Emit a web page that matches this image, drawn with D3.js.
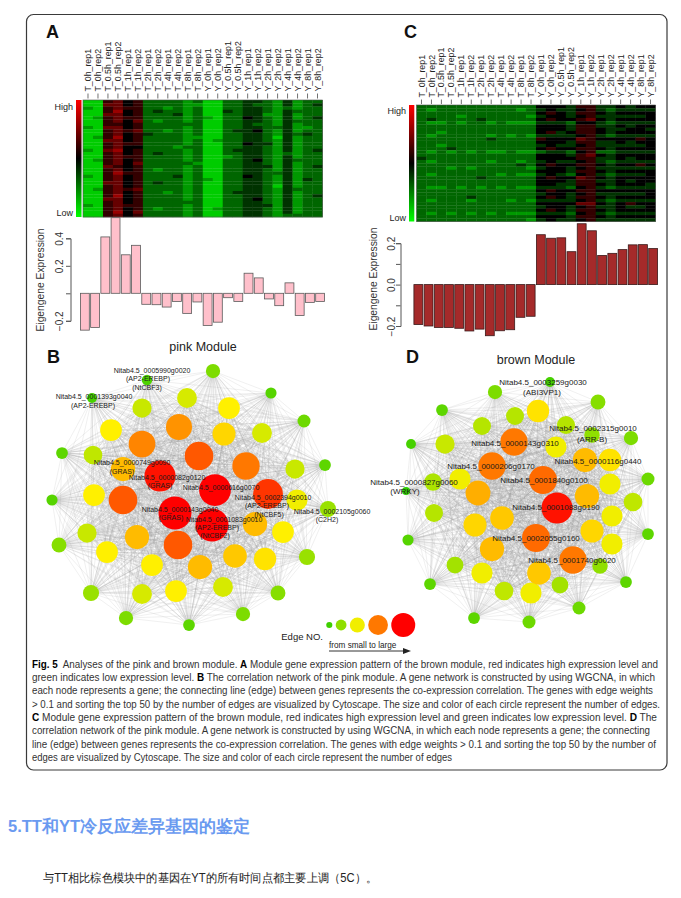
<!DOCTYPE html>
<html><head><meta charset="utf-8">
<script src="https://cdn.jsdelivr.net/npm/d3@7/dist/d3.min.js"></script>
<style>
html,body{margin:0;padding:0;background:#fff;}
svg{display:block;}
text{font-family:"Liberation Sans",Arial,Helvetica,sans-serif;}
</style></head><body>
<svg id="fig" width="681" height="898"></svg>
<script>
// ---------------- DATA ----------------
const samples = ["T_0h_rep1","T_0h_rep2","T_0.5h_rep1","T_0.5h_rep2","T_1h_rep1","T_1h_rep2",
  "T_2h_rep1","T_2h_rep2","T_4h_rep1","T_4h_rep2","T_8h_rep1","T_8h_rep2",
  "Y_0h_rep1","Y_0h_rep2","Y_0.5h_rep1","Y_0.5h_rep2","Y_1h_rep1","Y_1h_rep2",
  "Y_2h_rep1","Y_2h_rep2","Y_4h_rep1","Y_4h_rep2","Y_8h_rep1","Y_8h_rep2"];

// eigengene expression per sample
const pinkEigengene = [-0.268,-0.249,0.41,0.55,0.28,0.349,-0.080,-0.083,-0.10,-0.059,-0.146,-0.063,
  -0.234,-0.21,-0.032,-0.059,0.146,0.112,-0.041,-0.09,0.076,-0.161,-0.066,-0.059];
const brownEigengene = [-0.193,-0.200,-0.207,-0.207,-0.211,-0.224,-0.215,-0.247,-0.223,-0.218,-0.158,-0.153,
  0.241,0.224,0.226,0.159,0.294,0.260,0.141,0.151,0.169,0.192,0.193,0.174];

// heatmap rows: one char per sample, expression level 0 (low, green) .. 5 (black) .. 9 (high, red)
const pinkHeatRows = [
"116756333323113344324233","117756333322113343324234","216766332323113344323233","116856343323114344324333",
"117756333423113344224233","126766333323213354324234","116757323323113344324333","116656333333113343324233",
"217756333323113344334223","116767332323113445324233","116756433323113344324343","126856333322113344314233",
"117756333323123344324233","116766333323113354424233","116755333233113344324233","217856333323113444324234",
"116756343323113344323233","116766333323112344324233","126756333323113345324333","116757333332113344324233",
"117656333323113344424234","116756323323113344324233","116866333323113344334233","216756333423113354324233",
"116756333323213344324243","117756343323113344324233","116756333323113344314233","126767333323113344324333",
"116756332323113444324233","116856333323113344324234","117756333323113345324233","116756333333113344324233",
"216766333323113344424233","116756323323123344324233","116857333323113344324233","116756333323113344323333"];
const brownHeatRows = [
"333333333333555466445455","323333333323454456434444","333333333333565466545555","333323333332455456444445",
"343333433333565567545555","322323323222444355434444","333333333333555466445455","333333333333555466544554",
"332333333333564566545555","323333323232444456434444","333333343333655576555565","333333333333555466445455",
"332333333333454456444445","333433333333565566545555","323232322322344356334444","333333333333555467545555",
"433333333333555566445455","323333323323454456434444","333333333343565566545565","333232333332455456444444",
"333333333333555466545555","323333332322454356434445","333333433333565576545555","333333333333555466445455",
"333333333333554466545554","322323232322444356434444","333333333333565566555555","333333333333455456444445",
"333334333333565466545555","323332333232444456434444","333333333333555577545655","333333333333455456445445",
"333333333333565466545555","323232323222444356434444","333333333333555466545555","333333333332454456444444"];

// network nodes: [layout x, layout y, number of edges]
const pinkNodes = [
[173,11,20],[231,33,15],[264,61,18],[285,105,16],[288,149,23],[267,197,23],[238,233,21],[203,254,20],
[149,265,16],[86,258,20],[51,233,23],[19,185,21],[12,140,15],[22,93,16],[52,38,13],[107,20,14],
[102,48,28],[147,38,29],[189,48,32],[222,73,29],[255,109,28],[257,140,31],[243,172,32],[225,199,33],
[195,196,35],[183,227,29],[136,231,32],[102,234,29],[67,192,32],[47,173,28],[54,135,32],[53,95,27],
[71,70,32],[184,74,34],[112,205,32],[160,207,36],[97,177,36],[83,109,36],[215,164,36],
[139,67,39],[102,84,40],[159,96,43],[206,106,41],[83,140,43],[138,185,43],[228,134,45],
[120,116,47],[175,130,48],[135,153,50],[172,165,50]];
const pinkLabels = [
["Nitab4.5_0005990g0020",112,12.5],["(AP2-EREBP)",108,21],["(NtCBF3)",107,30],
["Nitab4.5_0001393g0040",54,39],["(AP2-EREBP)",53,47.5],
["Nitab4.5_0000749g0090",92,105],["(GRAS)",82,113.5],
["Nitab4.5_0000082g0120",127,120],["(GRAS)",120,128],
["Nitab4.5_0000616g0070",181,130],
["Nitab4.5_0002394g0010",233,140],["(AP2-EREBP)",227,148],["(NtCBF5)",229,156.5],
["Nitab4.5_0002105g0060",292,153.5],["(C2H2)",287,162],
["Nitab4.5_0000143g0040",140,151.5],["(GRAS)",131,160],
["Nitab4.5_0001083g0010",184,161.5],["(AP2-EREBP)",177,170],["(NtCBF2)",175,178]];

const brownNodes = [
[115,32,20],[218,42,21],[62,50,16],[31,84,13],[251,78,20],[268,119,18],[26,131,10],[268,174,16],
[28,180,15],[246,222,16],[50,224,16],[199,248,18],[94,258,16],[149,262,18],[170,22,13],
[135,56,26],[158,51,33],[102,66,26],[186,65,26],[212,75,22],[65,84,28],[176,87,31],[230,100,33],
[53,122,25],[80,119,31],[230,124,31],[253,142,27],[54,153,26],[232,156,31],[95,165,34],[212,171,34],
[232,184,31],[75,205,24],[102,213,31],[220,206,22],[124,231,27],[151,233,31],[180,225,24],
[205,100,36],[98,133,37],[122,158,35],[207,136,36],[112,189,36],[159,213,35],
[134,82,41],[112,106,41],[163,120,42],[156,178,42],[193,200,41],[177,148,47]];
const brownLabels = [
["Nitab4.5_0003259g0030",163,24.7],["(ABI3VP1)",162,34.7],
["Nitab4.5_0002315g0010",213,71.3],["(ARR-B)",212,82],
["Nitab4.5_0000143g0310",135,85.7],["Nitab4.5_0000116g0440",218,104],
["Nitab4.5_0000206g0170",111,108.7],["Nitab4.5_0000827g0060",34,124.7],["(WRKY)",25,134],
["Nitab4.5_0001840g0100",164,123],["Nitab4.5_0001088g0190",176,150.3],
["Nitab4.5_0002055g0160",156,181.3],["Nitab4.5_0001740g0020",192,203]];

const legendLevels = [12,22,31,41,50];

const captionLines = [
"**Fig. 5**  Analyses of the pink and brown module. **A** Module gene expression pattern of the brown module, red indicates high expression level and",
"green indicates low expression level. **B** The correlation network of the pink module. A gene network is constructed by using WGCNA, in which",
"each node represents a gene; the connecting line (edge) between genes represents the co-expression correlation. The genes with edge weights",
"> 0.1 and sorting the top 50 by the number of edges are visualized by Cytoscape. The size and color of each circle represent the number of edges.",
"**C** Module gene expression pattern of the brown module, red indicates high expression level and green indicates low expression level. **D** The",
"correlation network of the pink module. A gene network is constructed by using WGCNA, in which each node represents a gene; the connecting",
"line (edge) between genes represents the co-expression correlation. The genes with edge weights > 0.1 and sorting the top 50 by the number of",
"edges are visualized by Cytoscape. The size and color of each circle represent the number of edges"];
const captionEnds = [658,655,653,660,657,650,656,452];

const sectionTitle = "5.TT和YT冷反应差异基因的鉴定";
const bodyText = "与TT相比棕色模块中的基因在YT的所有时间点都主要上调（5C）。";

// ---------------- DRAW ----------------
const svg = d3.select("#fig");
svg.append("rect").attr("x",26.5).attr("y",14.5).attr("width",640.5).attr("height",755.5)
  .attr("rx",7).attr("fill","#fff").attr("stroke","#3a3a3a").attr("stroke-width",1.2);

// panel letters
[["A",46,38],["C",404,38],["B",47,363],["D",406,363]].forEach(([t,x,y])=>{
  svg.append("text").attr("x",x).attr("y",y).text(t)
    .attr("font-size",18).attr("font-weight","bold").attr("fill","#111");
});

const heatColor = d3.scaleLinear().domain([0,5,10]).range(["#00ff00","#000000","#ff0000"]);

// gradient for color key
const defs = svg.append("defs");
const grad = defs.append("linearGradient").attr("id","key").attr("x1",0).attr("x2",0).attr("y1",0).attr("y2",1);
[[0,"#ff0000"],[0.5,"#000000"],[1,"#00ff00"]].forEach(([o,c])=>grad.append("stop").attr("offset",o).attr("stop-color",c));

function heatmap(rows, c){
  const g = svg.append("g");
  const x = d3.scaleBand().domain(samples).range([c.x0,c.x1]);
  const y = d3.scaleBand().domain(d3.range(rows.length)).range([c.y0,c.y1]);
  rows.forEach((r,i)=>{
    g.append("g").selectAll("rect").data(r.split("").map(Number)).join("rect")
      .attr("x",(d,j)=>x(samples[j])).attr("y",y(i))
      .attr("width",x.bandwidth()+0.3).attr("height",y.bandwidth()+0.3)
      .attr("fill",d=>heatColor(d));
  });
  g.append("rect").attr("x",c.x0).attr("y",c.y0).attr("width",c.x1-c.x0).attr("height",c.y1-c.y0)
    .attr("fill","none").attr("stroke","#555").attr("stroke-width",0.6);
  // ticks + labels
  g.selectAll("line.t").data(samples).join("line")
    .attr("x1",d=>x(d)+x.bandwidth()/2).attr("x2",d=>x(d)+x.bandwidth()/2)
    .attr("y1",c.tk0).attr("y2",c.tk1).attr("stroke","#333").attr("stroke-width",0.7);
  g.selectAll("text.l").data(samples).join("text")
    .attr("transform",d=>`translate(${x(d)+x.bandwidth()/2+3.1},${c.lab}) rotate(-90)`)
    .attr("text-anchor","start").attr("font-size",8.8).attr("fill","#222").text(d=>d);
  // key
  g.append("rect").attr("x",c.k0).attr("y",c.y0).attr("width",c.k1-c.k0).attr("height",c.y1-c.y0).attr("fill","url(#key)");
  g.append("text").attr("x",c.k0-3).attr("y",c.hiY).attr("text-anchor","end").attr("font-size",9).attr("fill","#222").text("High");
  g.append("text").attr("x",c.k0-3).attr("y",c.loY).attr("text-anchor","end").attr("font-size",9).attr("fill","#222").text("Low");
}
heatmap(pinkHeatRows,{x0:83,x1:322.5,y0:100,y1:217,tk0:93.5,tk1:98.5,lab:91.5,k0:76,k1:81.5,hiY:110,loY:215.5});
heatmap(brownHeatRows,{x0:416.5,x1:655.5,y0:105,y1:221.5,tk0:99.5,tk1:104,lab:97.5,k0:409,k1:414.3,hiY:114,loY:220.5});

function barChart(vals, c){
  const g = svg.append("g");
  const x = d3.scaleBand().domain(samples).range([c.x0,c.x1]).paddingInner(0.13).paddingOuter(0.04);
  const y = d3.scaleLinear().domain(c.dom).range(c.rng);
  g.selectAll("rect").data(vals).join("rect")
    .attr("x",(d,i)=>x(samples[i])).attr("width",x.bandwidth())
    .attr("y",d=>y(Math.max(0,d))).attr("height",d=>Math.abs(y(d)-y(0)))
    .attr("fill",c.fill).attr("stroke",c.stroke).attr("stroke-width",0.8);
  const ax = g.append("g").attr("transform",`translate(${c.ax},0)`)
    .call(d3.axisLeft(y).tickValues(c.ticks).tickSizeOuter(0).tickSize(4.5).tickFormat(c.fmt));
  ax.select(".domain").attr("stroke","#555");
  ax.selectAll(".tick line").attr("stroke","#555");
  ax.selectAll(".tick text").attr("x",null).attr("dy",null).attr("y",null)
    .attr("text-anchor","middle").attr("transform",`translate(${c.lx},0) rotate(-90)`)
    .attr("font-size",10).attr("fill","#333").attr("font-family","Liberation Sans, Arial, sans-serif");
  g.append("text").attr("transform",`translate(${c.tx},${c.ty}) rotate(-90)`).attr("text-anchor","middle")
    .attr("font-size",10.3).attr("fill","#333").text("Eigengene Expression");
  g.append("text").attr("x",c.mx).attr("y",c.my).attr("text-anchor","middle").attr("font-size",12.5)
    .attr("fill","#222").text(c.title);
}
barChart(pinkEigengene,{x0:80,x1:325,dom:[-0.2,0.4],rng:[320.8,238.3],ax:70.5,ticks:[-0.2,0,0.2,0.4],
  fmt:d=>d===0?"":d3.format(".1f")(d),lx:-8,tx:44,ty:280,fill:"#ffc0cb",stroke:"#5a5a5a",mx:203,my:351,title:"pink Module"});
barChart(brownEigengene,{x0:413.5,x1:658,dom:[-0.2,0.2],rng:[326,243.2],ax:400.5,ticks:[-0.2,-0.1,0,0.1,0.2],
  fmt:d=>(Math.abs(d)===0.1)?"":d3.format(".1f")(d),lx:-6,tx:377,ty:279,fill:"#a52a2a",stroke:"#3a1a1a",mx:536,my:364,title:"brown Module"});

// networks
const nodeR = d3.scaleLinear().domain([10,50]).range([4,16.5]);
const nodeColor = d3.scaleLinear().domain([10,20,28,32,36,42,48])
  .range(["#2ecc00","#7ddc00","#c8e800","#fff000","#ffbb00","#ff6a00","#ff0000"]).clamp(true);

function network(nodes, labels, ox, oy, fs){
  const g = svg.append("g");
  const x = d3.scaleLinear().domain([0,300]).range([ox,ox+300]);
  const y = d3.scaleLinear().domain([0,270]).range([oy,oy+270]);
  const pts = nodes.map(n=>({x:x(n[0]),y:y(n[1]),deg:n[2]}));
  const edges = [];
  for(let i=0;i<pts.length;i++) for(let j=i+1;j<pts.length;j++) edges.push([pts[i],pts[j]]);
  g.append("g").selectAll("line").data(edges).join("line")
    .attr("x1",d=>d[0].x).attr("y1",d=>d[0].y).attr("x2",d=>d[1].x).attr("y2",d=>d[1].y)
    .attr("stroke","#9a9a9a").attr("stroke-width",0.35).attr("stroke-opacity",0.45);
  g.append("g").selectAll("circle").data(pts.slice().sort((a,b)=>a.deg-b.deg)).join("circle")
    .attr("cx",d=>d.x).attr("cy",d=>d.y).attr("r",d=>nodeR(d.deg)).attr("fill",d=>nodeColor(d.deg));
  g.append("g").selectAll("text").data(labels).join("text")
    .attr("x",d=>x(d[1])).attr("y",d=>y(d[2])).attr("text-anchor","middle")
    .attr("font-size",fs).attr("fill","#1a1a1a").text(d=>d[0]);
}
network(pinkNodes,pinkLabels,40,360,7);
network(brownNodes,brownLabels,380,360,8);

// legend
const legR = d3.scaleLinear().domain([10,50]).range([2.6,12]);
let lx = 329.3 - legR(legendLevels[0]);
const legPos = legendLevels.map(d=>{ const r=legR(d); const cx = lx + r; lx = cx + r + 3.3; return {d,cx,r}; });
svg.append("g").selectAll("circle").data(legPos).join("circle")
  .attr("cx",d=>d.cx).attr("cy",625).attr("r",d=>d.r).attr("fill",d=>nodeColor(d.d));
svg.append("text").attr("x",323).attr("y",640).attr("text-anchor","end").attr("font-size",9.5).attr("fill","#222").text("Edge NO.");
svg.append("text").attr("x",329).attr("y",647.5).attr("font-size",8.2).attr("fill","#222").text("from small to large");
svg.append("line").attr("x1",329).attr("x2",405).attr("y1",651).attr("y2",651).attr("stroke","#333").attr("stroke-width",1);
svg.append("path").attr("d","M403,648 L411,651 L403,654 Z").attr("fill","#222");

// caption
captionLines.forEach((line,i)=>{
  const t = svg.append("text").attr("x",32).attr("y",667.5+i*13.35)
    .attr("font-size",10).attr("fill","#333").attr("xml:space","preserve").style("white-space","pre")
    .attr("font-family","'Liberation Sans Narrow','DejaVu Sans Condensed','Liberation Sans',sans-serif")
    .attr("textLength",captionEnds[i]-32).attr("lengthAdjust","spacingAndGlyphs");
  line.split("**").forEach((seg,k)=>{
    if(!seg) return;
    const ts = t.append("tspan").text(seg);
    if(k%2===1) ts.attr("font-weight","bold").attr("fill","#000");
  });
});

// article text below
svg.append("text").attr("x",8).attr("y",832).attr("font-size",16.5).attr("font-weight","bold")
  .attr("font-family","'Noto Sans CJK SC',sans-serif").attr("fill","#6a9af0").text(sectionTitle);
svg.append("text").attr("x",43).attr("y",881.5).attr("font-size",12)
  .attr("font-family","'Noto Sans CJK SC',sans-serif").attr("fill","#222")
  .attr("textLength",334).attr("lengthAdjust","spacingAndGlyphs").text(bodyText);
</script>
</body></html>
